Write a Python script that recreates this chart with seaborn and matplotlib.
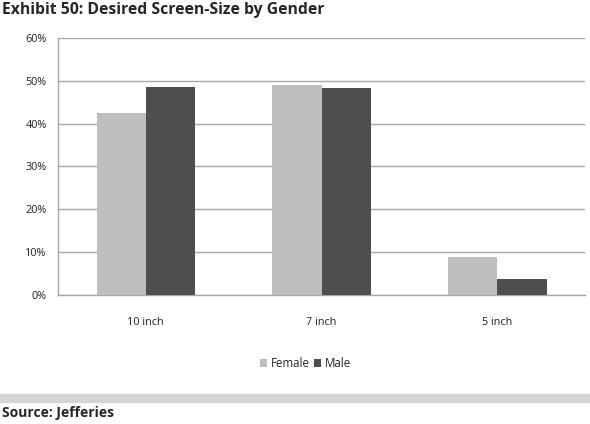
import pandas as pd
import matplotlib.pyplot as plt
import seaborn as sns
from matplotlib.ticker import PercentFormatter

sizes = ['10 inch', '7 inch', '5 inch']
female = [42.5, 48.9, 8.8]
male = [48.4, 48.3, 3.7]

df = pd.DataFrame({
    'size': sizes * 2,
    'gender': ['Female'] * 3 + ['Male'] * 3,
    'pct': female + male,
})

sns.set_style('white')
plt.rcParams['font.family'] = ['Open Sans', 'DejaVu Sans']

fig = plt.figure(figsize=(5.9, 4.24), dpi=100)
ax = fig.add_axes([0.098, 0.304, 0.894, 0.607])

sns.barplot(data=df, x='size', y='pct', hue='gender',
            palette={'Female': '#bebebe', 'Male': '#4e4e4e'},
            width=0.56, saturation=1, linewidth=0, ax=ax, zorder=3)

ax.set_ylim(0, 60)
ax.set_yticks(range(0, 61, 10))
ax.yaxis.set_major_formatter(PercentFormatter(decimals=0))
ax.set_xticks([0.5, 1.5], minor=True)
ax.grid(axis='y', color='#a8a8a8', linewidth=1.0, zorder=0)
ax.set_axisbelow(True)
ax.set_xlabel('')
ax.set_ylabel('')
ax.tick_params(axis='both', labelsize=7.8, length=0, colors='#222222')
ax.tick_params(axis='x', which='minor', length=3, color='#a8a8a8', direction='out')
ax.tick_params(axis='x', pad=16)
ax.tick_params(axis='y', pad=8)
for s in ['top', 'right']:
    ax.spines[s].set_visible(False)
for s in ['left', 'bottom']:
    ax.spines[s].set_color('#a8a8a8')
    ax.spines[s].set_linewidth(1.0)

ax.legend(loc='upper center', bbox_to_anchor=(0.47, -0.2), ncol=2, frameon=False,
          fontsize=8.3, handlelength=0.6, handleheight=0.6, handletextpad=0.3,
          columnspacing=0.4)

fig.text(0.004, 0.977, 'Exhibit 50: Desired Screen-Size by Gender',
         fontsize=11.3, fontweight='bold', va='center', ha='left')
fig.patches.append(plt.Rectangle((0, 0.053), 1, 0.0175, transform=fig.transFigure,
                                 color='#d4d4d4', zorder=0))
fig.text(0.004, 0.027, 'Source: Jefferies', fontsize=10, fontweight='bold',
         va='center', ha='left')

fig.savefig('out.png', dpi=100)
